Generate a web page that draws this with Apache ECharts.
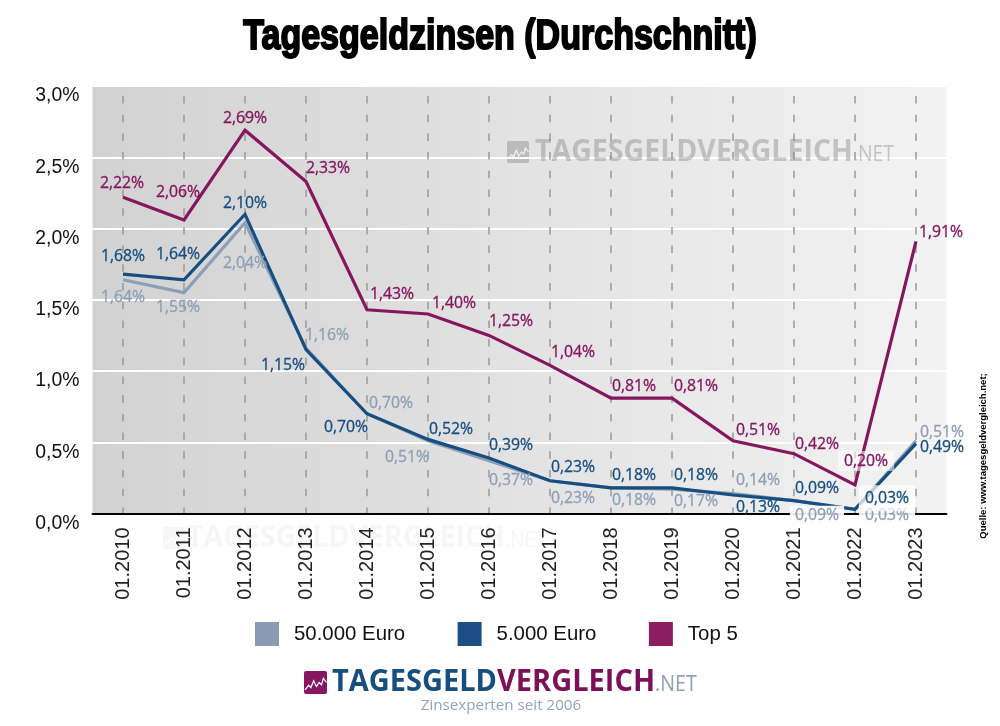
<!DOCTYPE html>
<html><head><meta charset="utf-8">
<style>html,body{margin:0;padding:0;background:#fff}#c{width:1000px;height:726px}</style>
<script src="https://cdn.jsdelivr.net/npm/echarts@6/dist/echarts.min.js"></script>
</head><body><div id="c"></div>
<script>
const titleText = 'Tagesgeldzinsen (Durchschnitt)';
const categories = ['01.2010','01.2011','01.2012','01.2013','01.2014','01.2015','01.2016','01.2017','01.2018','01.2019','01.2020','01.2021','01.2022','01.2023'];
const yTicks = [0, 0.5, 1, 1.5, 2, 2.5, 3];
const euro50000 = [1.64,1.55,2.04,1.16,0.70,0.51,0.37,0.23,0.18,0.17,0.14,0.09,0.03,0.51];
const euro5000  = [1.68,1.64,2.10,1.15,0.70,0.52,0.39,0.23,0.18,0.18,0.13,0.09,0.03,0.49];
const top5      = [2.22,2.06,2.69,2.33,1.43,1.40,1.25,1.04,0.81,0.81,0.51,0.42,0.20,1.91];

// label placement relative to each point
const off50000 = [[0,18],[-6,15],[0,41],[21,-13],[24,-10],[-21,17],[22,20],[23,18],[23,13],[24,12],[25,-13],[23,15],[32,6],[26,-8]];
const off5000  = [[0,-18],[-6,-25],[0,-11],[-23,16],[-21,14],[23,-10],[22,-12],[23,-13],[23,-12],[24,-12],[25,13],[23,-12],[32,-11],[26,4]];
const offTop5  = [[-1,-14],[-6,-27],[0,-12],[22,-13],[25,-15],[26,-11],[22,-14],[23,-13],[23,-12],[24,-12],[25,-10],[23,-9],[11,-24],[25,-9]];
// translucent white plates behind a few crowded labels: index -> [alpha, padding]
const plate50000 = { 11: [0.9, [2,5,2,5]], 12: [0.9, [2,6,2,6]] };
const plate5000  = { 12: [0.72, [6,6,4,6]] };
const plateTop5  = { 12: [0.55, [2,6,2,6]] };

const C50 = '#8d9fb8', C5 = '#174e80', CT = '#85165f';
const fmt = v => v.toFixed(2).replace('.', ',') + '%';

function makeSeries(name, values, color, offs, plates, legendColor) {
  return {
    name, type: 'line', symbol: 'circle', symbolSize: 0, silent: true,
    itemStyle: { color: legendColor },
    lineStyle: { color, width: 3.2, join: 'miter' },
    label: { show: true },
    data: values.map((v, i) => ({
      value: v,
      label: Object.assign({
        show: true, position: 'inside', offset: offs[i], formatter: fmt(v), color,
        fontFamily: '"Open Sans"', fontSize: 15.8, fontWeight: 400,
        textBorderColor: color, textBorderWidth: 0.3
      }, plates[i] ? { backgroundColor: 'rgba(255,255,255,' + plates[i][0] + ')', padding: plates[i][1] } : {})
    })),
    z: 3
  };
}

function logo(x, y, fill, ink, size) {
  return {
    type: 'group', x, y, silent: true, children: [
      { type: 'rect', shape: { x: 0, y: 0, width: size, height: size, r: 2 }, style: { fill } },
      { type: 'polyline', shape: { points: [[1,size*.82],[size*.2,size*.62],[size*.3,size*.72],[size*.42,size*.42],[size*.54,size*.68],[size*.66,size*.5],[size*.76,size*.6],[size*.84,size*.32],[size*.98,size*.5]] },
        style: { stroke: ink, lineWidth: 1.2, fill: 'none' } }
    ]
  };
}
function wordmark(x, y, colA, colB, colC, z, sx) {
  return {
    type: 'text', x, y, z, silent: true, scaleX: sx,
    style: {
      text: '{a|TAGESGELD}{b|VERGLEICH}{c|.NET}',
      verticalAlign: 'middle',
      rich: {
        a: { fill: colA, fontFamily: '"Open Sans"', fontWeight: 700, fontSize: 31 },
        b: { fill: colB, fontFamily: '"Open Sans"', fontWeight: 700, fontSize: 31 },
        c: { fill: colC, fontFamily: '"Open Sans"', fontWeight: 400, fontSize: 21, padding: [6, 0, 0, 0] }
      }
    }
  };
}

const chart = echarts.init(document.getElementById('c'), null, { renderer: 'canvas' });
chart.setOption({
  animation: false,
  backgroundColor: '#fff',
  grid: {
    left: 92.5, right: 53.5, top: 86, bottom: 212.5, show: true, borderWidth: 0,
    backgroundColor: { type: 'linear', x: 0, y: 0, x2: 1, y2: 0, colorStops: [{ offset: 0, color: '#d2d2d2' }, { offset: 1, color: '#f3f3f3' }] }
  },
  legend: {
    left: 255, top: 622, padding: 0, itemWidth: 24, itemHeight: 24, itemGap: 52.5, icon: 'rect', selectedMode: false,
    data: ['50.000 Euro', '5.000 Euro', 'Top 5'],
    textStyle: { fontFamily: '"Liberation Sans"', fontSize: 20.4, color: '#111', padding: [0, 0, 0, 10] }
  },
  xAxis: {
    type: 'category', data: categories, boundaryGap: true,
    axisLine: { lineStyle: { color: '#000', width: 2 } }, axisTick: { show: false },
    axisLabel: { rotate: 90, margin: 14, fontFamily: '"Liberation Sans"', fontSize: 20, color: '#222', interval: 0 },
    splitLine: { show: true, alignWithLabel: true, interval: 0, lineStyle: { color: '#999', width: 1.5, type: [7.5, 11.2], dashOffset: 8.7 } }
  },
  yAxis: {
    type: 'value', min: yTicks[0], max: yTicks[yTicks.length - 1], interval: yTicks[1] - yTicks[0],
    axisLine: { show: false }, axisTick: { show: false },
    axisLabel: { margin: 13, verticalAlign: 'top', lineHeight: 20, fontFamily: '"Liberation Sans"', fontSize: 19.4, color: '#111', formatter: v => v.toFixed(1).replace('.', ',') + '%' },
    splitLine: { lineStyle: { color: '#fff', width: 2 } }
  },
  series: [
    makeSeries('50.000 Euro', euro50000, C50, off50000, plate50000, '#8a9ab2'),
    makeSeries('5.000 Euro', euro5000, C5, off5000, plate5000, '#1b4f83'),
    makeSeries('Top 5', top5, CT, offTop5, plateTop5, '#8a1e5e')
  ],
  graphic: [
    { type: 'text', x: 500, y: 37, scaleX: 0.81, silent: true, z: 10, style: { text: titleText, align: 'center', verticalAlign: 'middle', fontFamily: '"Liberation Sans"', fontWeight: 'bold', fontSize: 42, fill: '#000', stroke: '#000', lineWidth: 2 } },
    Object.assign(logo(507, 141, 'rgba(130,130,130,0.42)', 'rgba(255,255,255,0.8)', 22), { z: 2 }),
    wordmark(535, 152, 'rgba(130,130,130,0.42)', 'rgba(130,130,130,0.42)', 'rgba(130,130,130,0.42)', 2, 0.92),
    Object.assign(logo(163, 527, '#f6f6f6', '#fff', 22), { z: 0 }),
    wordmark(187, 538, '#f6f6f6', '#f6f6f6', '#f6f6f6', 0, 0.92),
    logo(304, 671, '#85165f', '#fff', 23),
    wordmark(332, 682, '#174e80', '#7c1158', '#8d9fb8', 5, 0.935),
    { type: 'text', x: 501, y: 706, silent: true, style: { text: 'Zinsexperten seit 2006', align: 'center', verticalAlign: 'middle', fontFamily: '"Open Sans"', fontSize: 15.2, fill: '#93a3b8' } },
    { type: 'text', x: 983, y: 456, rotation: Math.PI / 2, silent: true, style: { text: 'Quelle: www.tagesgeldvergleich.net;', align: 'center', verticalAlign: 'middle', fontFamily: '"Liberation Sans"', fontWeight: 'bold', fontSize: 9.5, fill: '#000' } }
  ]
});
</script></body></html>
